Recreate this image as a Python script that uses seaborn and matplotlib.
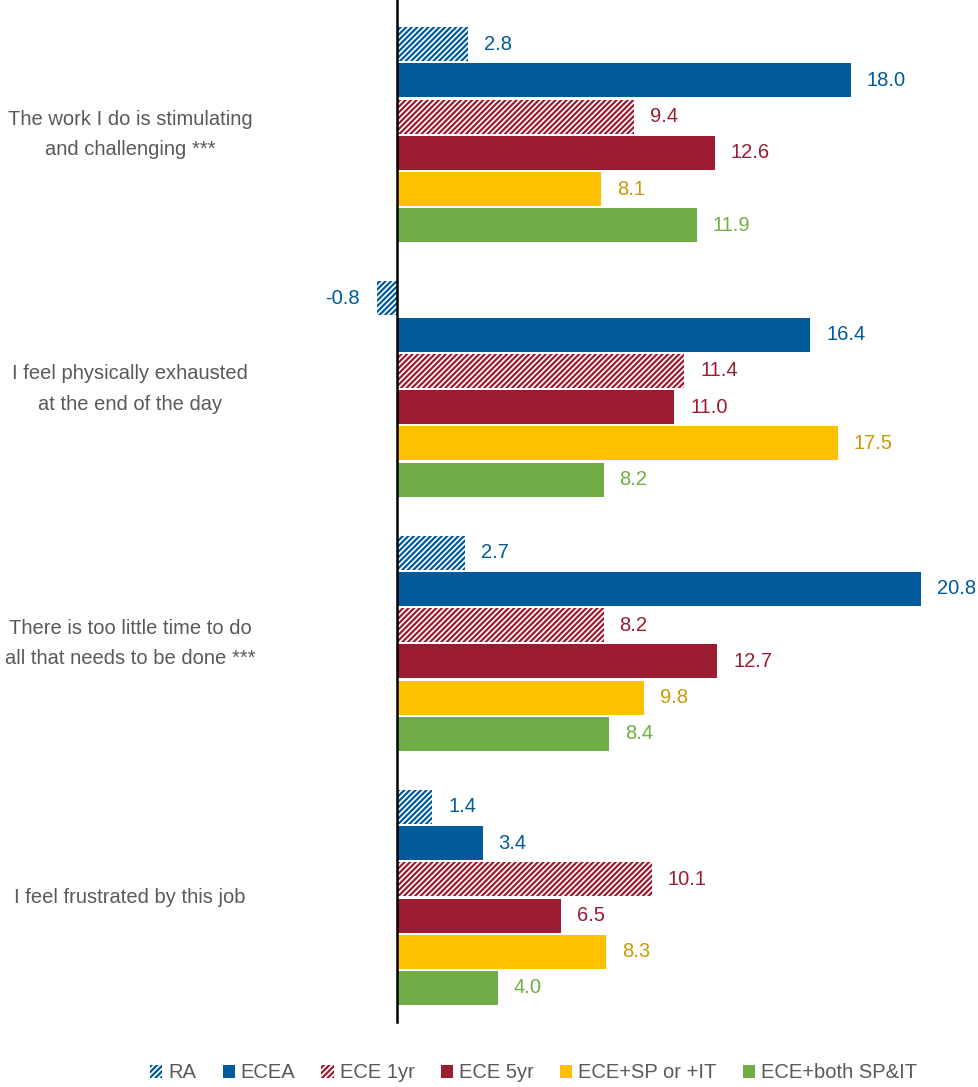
import matplotlib
matplotlib.use("Agg")
import matplotlib.pyplot as plt
import matplotlib.transforms as mtransforms
import seaborn as sns
import pandas as pd
from matplotlib.patches import Patch
from matplotlib import font_manager

categories = [
    "The work I do is stimulating\nand challenging ***",
    "I feel physically exhausted\nat the end of the day",
    "There is too little time to do\nall that needs to be done ***",
    "I feel frustrated by this job",
]
series = ["RA", "ECEA", "ECE 1yr", "ECE 5yr", "ECE+SP or +IT", "ECE+both SP&IT"]
ra = [2.8, -0.8, 2.7, 1.4]
ecea = [18.0, 16.4, 20.8, 3.4]
ece1 = [9.4, 11.4, 8.2, 10.1]
ece5 = [12.6, 11.0, 12.7, 6.5]
ecesp = [8.1, 17.5, 9.8, 8.3]
eceboth = [11.9, 8.2, 8.4, 4.0]
values = [ra, ecea, ece1, ece5, ecesp, eceboth]

bar_colors = ["#005A9C", "#005A9C", "#9B1B30", "#9B1B30", "#FFC000", "#70AD47"]
text_colors = ["#005A9C", "#005A9C", "#9B1B30", "#9B1B30", "#C99A06", "#70AD47"]
hatched = [True, False, True, False, False, False]

sns.set_theme(style="white")
names = {f.name for f in font_manager.fontManager.ttflist}
fam = "Liberation Sans Narrow" if "Liberation Sans Narrow" in names else "Liberation Sans"
plt.rcParams["font.family"] = [fam, "DejaVu Sans"]
plt.rcParams["hatch.linewidth"] = 1.6

FS = 14.5

rows = []
for s, vals in zip(series, values):
    for c, v in zip(categories, vals):
        rows.append({"category": c, "series": s, "value": v})
df = pd.DataFrame(rows)

fig = plt.figure(figsize=(9.79, 10.87), dpi=100)
ax = fig.add_axes([346.6 / 979, 1 - 1022 / 1087, 630 / 979, 1022 / 1087])

sns.barplot(data=df, y="category", x="value", hue="series", order=categories,
            hue_order=series, palette=bar_colors, orient="h", width=0.855,
            gap=0.06, ax=ax, legend=False, saturation=1, errorbar=None)

for i, cont in enumerate(ax.containers):
    for p in cont.patches:
        p.set_linewidth(0)
        if hatched[i]:
            p.set_facecolor("white")
            p.set_edgecolor(bar_colors[i])
            p.set_hatch("//////")
    labels = [f"{v:.1f}" for v in values[i]]
    for p, lab, v in zip(cont.patches, labels, values[i]):
        y = p.get_y() + p.get_height() / 2
        if v >= 0:
            ax.annotate(lab, (v, y), xytext=(11.5, 0), textcoords="offset points",
                        ha="left", va="center", fontsize=FS, color=text_colors[i])
        else:
            ax.annotate(lab, (v, y), xytext=(-12.5, 0), textcoords="offset points",
                        ha="right", va="center", fontsize=FS, color=text_colors[i])

ax.set_xlim(-2, 23)
ax.set_ylim(3.49, -0.53)
ax.set_xticks([])
ax.set_yticks([])
ax.set_xlabel("")
ax.set_ylabel("")
for s in ["top", "right", "bottom"]:
    ax.spines[s].set_visible(False)
ax.spines["left"].set_position(("data", 0))
ax.spines["left"].set_color("black")
ax.spines["left"].set_linewidth(1.8)

trans = mtransforms.blended_transform_factory(fig.transFigure, ax.transData)
for j, c in enumerate(categories):
    ax.text(130 / 979, j, c, transform=trans, ha="center", va="center",
            fontsize=FS, color="#595959", linespacing=1.75)

handles = []
for i, s in enumerate(series):
    if hatched[i]:
        handles.append(Patch(facecolor="white", edgecolor=bar_colors[i], hatch="//////", linewidth=0, label=s))
    else:
        handles.append(Patch(facecolor=bar_colors[i], edgecolor=bar_colors[i], linewidth=0, label=s))
fig.legend(handles=handles, loc="center", bbox_to_anchor=(0.545, 1 - 1073 / 1087), ncol=6,
           frameon=False, fontsize=FS, handlelength=0.6, handleheight=0.6, handletextpad=0.3,
           columnspacing=1.3, labelcolor="#595959")

fig.savefig("out.png", dpi=100)
